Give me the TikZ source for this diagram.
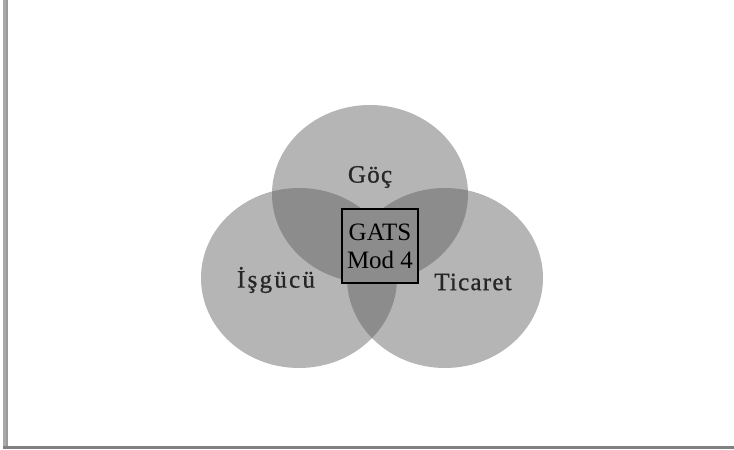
\documentclass[tikz,border=0pt]{standalone}
\usepackage{fontspec}
\setmainfont{Liberation Serif}
\newfontfamily\lblfont[FakeBold=0.8, LetterSpace=5]{Liberation Serif}
\newfontfamily\lblwide[FakeBold=0.8, LetterSpace=9]{Liberation Serif}
\definecolor{cone}{HTML}{B5B5B5}
\definecolor{ctwo}{HTML}{8C8C8C}
\definecolor{frameg}{HTML}{A8A8A8}
\definecolor{frameb}{HTML}{808080}
\tikzset{
  lbl/.style={font=\lblfont\fontsize{25}{28}\selectfont, text=black!85, inner sep=0pt},
  lblw/.style={font=\lblwide\fontsize{25}{28}\selectfont, text=black!85, inner sep=0pt},
  gatsbox/.style={draw=black, line width=1.5pt, fill=ctwo, minimum width=76pt, minimum height=74pt, inner sep=0pt, align=center, font=\fontsize{25}{28}\selectfont}
}
\newcommand{\topE}{(370,256) ellipse [x radius=98, y radius=89]}
\newcommand{\leftE}{(299,172) ellipse [x radius=98, y radius=90]}
\newcommand{\rightE}{(445,172) ellipse [x radius=98, y radius=90]}
\begin{document}
\begin{tikzpicture}[x=1pt,y=1pt]
\useasboundingbox (0,0) rectangle (734,450);
% frame
\fill[frameg] (3,0.5) rectangle (8,450);
\fill[frameb!80] (5.5,0.5) rectangle (8,450);
\fill[frameb] (3,0.5) rectangle (734,3.5);
% circles
\fill[cone] \topE;
\fill[cone] \leftE;
\fill[cone] \rightE;
% overlaps
\begin{scope}\clip \topE; \fill[ctwo] \leftE; \end{scope}
\begin{scope}\clip \topE; \fill[ctwo] \rightE; \end{scope}
\begin{scope}\clip \leftE; \fill[ctwo] \rightE; \end{scope}
% labels
\node[lbl] (goc) at (370,273) {Göç};
\node[lblw] (isg) at (276,170) {İşgücü};
\node[lbl] (tic) at (473,168) {Ticaret};
\node[gatsbox] (gats) at (380,204) {GATS\\Mod 4};
\end{tikzpicture}
\end{document}
